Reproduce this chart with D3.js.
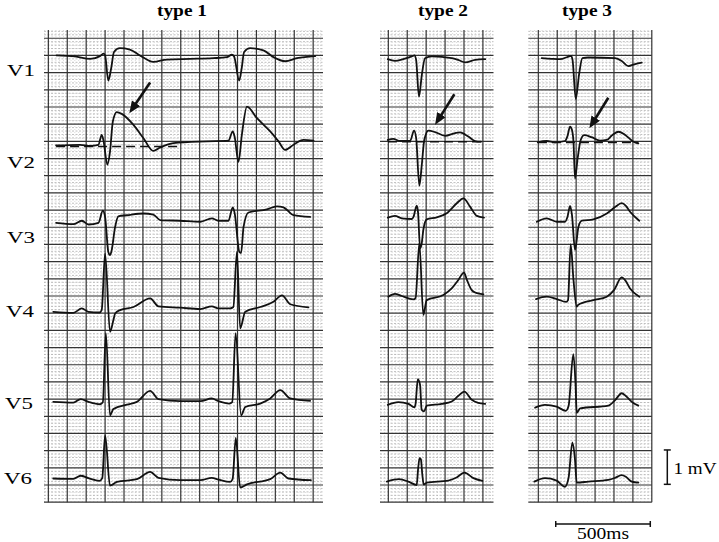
<!DOCTYPE html>
<html><head><meta charset="utf-8">
<script src="https://cdn.jsdelivr.net/npm/d3@7"></script>
<style>html,body{margin:0;padding:0;background:#fff}</style>
</head><body>
<svg id="c" width="719" height="542"></svg>
<script>
// ---------- data (time in ms, amplitude in mV relative to each lead's baseline) ----------
const leads = ["V1","V2","V3","V4","V5","V6"];
const types = ["type 1","type 2","type 3"];

const type1V1 = [[44,0.02],[141,-0.01],[221,-0.08],[273,0],[291,0.07],[300,0.02],[317,-0.71],[332,-0.36],[347,0.12],[378,0.23],[431,0.19],[484,0.02],[555,-0.17],[626,-0.1],[750,-0.08],[871,-0.06],[944,-0.03],[970,0.04],[982,-0.01],[1009,-0.71],[1022,-0.36],[1035,0.12],[1067,0.23],[1137,0.17],[1190,-0.03],[1252,-0.15],[1314,-0.06],[1411,0]];
const type1V2 = [[41,0.01],[168,0.03],[221,0],[265,0.03],[282,0.32],[291,0.17],[312,-0.55],[326,-0.17],[341,0.71],[362,0.98],[388,0.93],[450,0.61],[503,0.22],[555,-0.15],[591,-0.05],[661,0.08],[838,0.13],[952,0.15],[975,0.42],[985,0.26],[1005,-0.47],[1023,0.32],[1050,1.14],[1102,0.81],[1173,0.42],[1217,0.13],[1252,-0.12],[1296,0.03],[1349,0.17],[1402,0.15]];
const type1V3 = [[41,0.01],[132,-0.03],[177,0.07],[212,-0.04],[265,0.01],[288,0.36],[300,0.18],[317,-0.84],[326,-0.93],[334,-0.81],[353,-0.11],[370,0.2],[415,0.23],[503,0.28],[555,0.25],[591,0.09],[697,0.07],[804,0.04],[864,0.14],[899,0.07],[952,0.07],[975,0.46],[985,0.29],[1010,-0.84],[1019,-0.87],[1032,-0.11],[1058,0.31],[1155,0.4],[1208,0.49],[1243,0.46],[1296,0.23],[1384,0.18]];
const type1V4 = [[26,0.01],[132,-0.02],[177,0.11],[212,0.01],[270,-0.01],[282,0.06],[300,1.71],[326,-0.57],[344,-0.23],[353,-0.04],[379,0.06],[450,0.15],[538,0.4],[582,0.17],[697,0.13],[804,0.09],[864,0.17],[899,0.11],[961,0.11],[978,0.15],[997,1.75],[1014,-0.47],[1041,0.01],[1120,0.15],[1190,0.3],[1235,0.49],[1279,0.23],[1375,0.14]];
const type1V5 = [[26,0.01],[132,-0.01],[171,0.09],[212,0.01],[273,-0.06],[288,0],[304,2.01],[326,-0.38],[344,-0.2],[415,-0.07],[468,0.01],[538,0.33],[582,0.09],[697,0.03],[804,0.03],[864,0.11],[899,0.03],[957,-0.04],[972,0],[990,2.01],[1019,-0.38],[1041,-0.14],[1120,-0.04],[1173,0.11],[1226,0.35],[1279,0.11],[1384,0.04]];
const type1V6 = [[26,0.02],[132,0.01],[171,0.1],[212,0.03],[270,-0.05],[285,0.03],[300,1.28],[326,-0.19],[362,-0.08],[468,0],[538,0.21],[582,0.04],[697,-0.03],[804,-0.03],[864,0.04],[899,-0.01],[961,-0.08],[974,0],[991,1.2],[1014,-0.24],[1050,-0.15],[1173,0],[1226,0.19],[1270,0.02],[1388,-0.03]];

const type2V1 = [[-3,-0.01],[35,-0.06],[79,-0.01],[124,0.07],[138,0.1],[147,-0.03],[162,-1.1],[177,-0.47],[194,0.02],[230,0.07],[335,0.02],[369,-0.03],[406,-0.1],[459,-0.03],[512,-0.01]];
const type2V2 = [[-3,0.04],[26,0.07],[62,0.01],[115,0.01],[136,0.31],[147,0.1],[164,-1.29],[177,-0.68],[190,0.04],[212,0.31],[247,0.27],[300,0.16],[353,0.24],[379,0.26],[423,0.14],[459,0.01],[490,-0.01]];
const type2V3 = [[-3,0.01],[35,0.06],[71,-0.01],[124,-0.03],[133,0.03],[150,0.36],[157,0.17],[168,-0.88],[176,-0.76],[185,-0.35],[203,-0.04],[256,0.02],[309,0.14],[362,0.43],[397,0.57],[432,0.33],[468,0.06],[506,0.01]];
const type2V4 = [[0,0.01],[35,0.09],[71,0.03],[132,-0.07],[144,-0.03],[164,1.57],[185,-0.52],[203,-0.09],[291,0.06],[335,0.25],[369,0.49],[400,0.71],[416,0.49],[441,0.2],[464,0.12],[503,0.08]];
const type2V5 = [[-3,-0.03],[53,0.05],[106,0],[138,-0.1],[144,0],[156,0.72],[168,0.55],[176,-0.17],[189,-0.22],[203,-0.05],[282,0],[335,0.07],[369,0.23],[402,0.36],[441,0.12],[475,0.03],[512,0]];
const type2V6 = [[-8,0.01],[57,0.08],[106,0.01],[150,-0.09],[157,0.35],[165,0.69],[172,0.66],[180,0.2],[187,-0.08],[203,-0.02],[317,0.04],[358,0.12],[402,0.27],[450,0.11],[497,0.03]];

const type3V1 = [[18,0.01],[71,-0.01],[115,-0.02],[156,0.05],[173,0.08],[181,-0.04],[198,-1.18],[215,-0.48],[233,0.01],[265,0.03],[406,0.01],[441,-0.07],[476,-0.22],[512,-0.16],[547,-0.12]];
const type3V2 = [[-3,-0.01],[44,0.03],[88,-0.01],[141,0.03],[154,0.17],[168,0.45],[178,0.35],[186,0],[194,-1.06],[208,-0.47],[224,0.06],[243,0.2],[282,0.14],[326,0.04],[362,0.06],[390,0.2],[423,0.3],[453,0.23],[476,0.13],[503,0.01],[529,-0.04]];
const type3V3 = [[-8,-0.02],[44,0.08],[97,-0.02],[141,-0.02],[154,0.12],[168,0.44],[178,0.17],[194,-0.84],[212,-0.17],[230,0.01],[291,0.05],[362,0.22],[406,0.41],[441,0.52],[463,0.44],[485,0.27],[534,0.01]];
const type3V4 = [[-12,0],[44,0.07],[97,0],[147,-0.08],[157,-0.03],[171,1.6],[186,0.55],[203,-0.22],[210,-0.17],[291,-0.03],[362,0.07],[400,0.26],[441,0.63],[463,0.52],[485,0.31],[534,0.07]];
const type3V5 = [[-17,-0.02],[35,0.06],[97,0.01],[145,-0.11],[160,0.03],[185,1.54],[197,0.64],[203,-0.17],[221,-0.04],[370,0.04],[406,0.2],[441,0.4],[463,0.32],[494,0.15],[529,0.04]];
const type3V6 = [[-21,-0.02],[35,0.08],[97,0.01],[141,-0.17],[160,0.09],[180,1.11],[194,0.61],[203,-0.05],[265,-0.02],[370,0.03],[406,0.09],[441,0.17],[463,0.12],[494,-0.02],[529,-0.05]];

// V2 isoelectric reference (t start, t end, mV) and arrows (tail t, tail mV, tip t, tip mV), relative to V2
const dashBaselines = [[41,706,-0.02],[-2,497,-0.01],[-2,529,-0.01]];
const arrows = [[538,1.84,428,0.95],[349,1.37,247,0.48],[370,1.29,270,0.40]];
const scaleBarMs = 500, scaleBarMv = 1;

// ---------- layout ----------
const W = 719, H = 542;
const svg = d3.select("#c");
svg.append("rect").attr("width", W).attr("height", H).attr("fill", "#fff");

const Y = d3.scaleLinear().domain([0.24, -13.5]).range([30, 502.2]);
const panels = [
  {title: types[0], range: [44, 323], domain: [-23, 1452], titleX: 182,
   offs: [-0.52, -3.13, -5.38, -7.97, -10.59, -12.83],
   traces: [type1V1, type1V2, type1V3, type1V4, type1V5, type1V6]},
  {title: types[1], range: [380, 493.5], domain: [-44, 556], titleX: 443,
   offs: [-0.60, -3.00, -5.23, -7.53, -10.64, -12.91],
   traces: [type2V1, type2V2, type2V3, type2V4, type2V5, type2V6]},
  {title: types[2], range: [528.3, 651.8], domain: [-53, 600], titleX: 587,
   offs: [-0.59, -3.02, -5.32, -7.59, -10.73, -12.88],
   traces: [type3V1, type3V2, type3V3, type3V4, type3V5, type3V6]}
];

const defs = svg.append("defs");
defs.append("marker").attr("id", "ah").attr("markerUnits", "userSpaceOnUse")
  .attr("viewBox", "0 0 12 10").attr("refX", 12).attr("refY", 5)
  .attr("markerWidth", 12).attr("markerHeight", 10).attr("orient", "auto")
  .append("path").attr("d", "M0,0 L12,5 L0,10 Z").attr("fill", "#111");

const serif = "'Liberation Serif','Times New Roman',Times,serif";

panels.forEach((p, pi) => {
  const X = d3.scaleLinear().domain(p.domain).range(p.range);
  const g = svg.append("g");
  const ti = d3.range(Math.ceil(p.domain[0] / 20), Math.floor(p.domain[1] / 20) + 1);
  const vi = d3.range(-135, 3);
  const yTop = Y(0.24), yBot = Y(-13.5);
  // minor grid
  g.selectAll("line.mv").data(ti.filter(i => i % 5 !== 0)).join("line")
    .attr("x1", i => X(i * 20)).attr("x2", i => X(i * 20)).attr("y1", yTop).attr("y2", yBot)
    .attr("stroke", "#c4c4c4").attr("stroke-width", 0.6).attr("stroke-dasharray", "1,2");
  g.selectAll("line.mh").data(vi.filter(j => j % 5 !== 0)).join("line")
    .attr("x1", p.range[0]).attr("x2", p.range[1]).attr("y1", j => Y(j / 10)).attr("y2", j => Y(j / 10))
    .attr("stroke", "#9c9c9c").attr("stroke-width", 0.65).attr("stroke-dasharray", "2,1.5");
  // major grid
  g.selectAll("line.Mv").data(ti.filter(i => i % 5 === 0)).join("line")
    .attr("x1", i => X(i * 20)).attr("x2", i => X(i * 20)).attr("y1", yTop).attr("y2", yBot)
    .attr("stroke", "#333").attr("stroke-width", 1.2);
  g.selectAll("line.Mh").data(vi.filter(j => j % 5 === 0)).join("line")
    .attr("x1", p.range[0]).attr("x2", p.range[1]).attr("y1", j => Y(j / 10)).attr("y2", j => Y(j / 10))
    .attr("stroke", "#333").attr("stroke-width", 1.2);

  // V2 isoelectric dashed line
  const db = dashBaselines[pi];
  g.append("line").attr("x1", X(db[0])).attr("x2", X(db[1]))
    .attr("y1", Y(p.offs[1] + db[2])).attr("y2", Y(p.offs[1] + db[2]))
    .attr("stroke", "#111").attr("stroke-width", 1.5).attr("stroke-dasharray", "9,5");

  // traces
  p.traces.forEach((tr, li) => {
    const line = d3.line().x(d => X(d[0])).y(d => Y(p.offs[li] + d[1])).curve(d3.curveMonotoneX);
    g.append("path").attr("d", line(tr)).attr("fill", "none")
      .attr("stroke", "#111").attr("stroke-width", 1.8)
      .attr("stroke-linejoin", "round").attr("stroke-linecap", "round");
  });

  // arrow
  const a = arrows[pi];
  const x1 = X(a[0]), y1 = Y(p.offs[1] + a[1]), x2 = X(a[2]), y2 = Y(p.offs[1] + a[3]);
  const len = Math.hypot(x2 - x1, y2 - y1), ux = (x2 - x1) / len, uy = (y2 - y1) / len;
  g.append("line").attr("x1", x1).attr("y1", y1).attr("x2", x2 - ux * 8).attr("y2", y2 - uy * 8)
    .attr("stroke", "#111").attr("stroke-width", 2.6);
  g.append("line").attr("x1", x2 - ux * 9).attr("y1", y2 - uy * 9).attr("x2", x2).attr("y2", y2)
    .attr("stroke", "none").attr("marker-end", "url(#ah)");

  // title
  svg.append("text").attr("x", p.titleX).attr("y", 16).attr("text-anchor", "middle")
    .attr("font-family", serif).attr("font-weight", "bold").attr("font-size", 17)
    .attr("textLength", 50).attr("lengthAdjust", "spacingAndGlyphs").text(p.title);

  // scale bars drawn with the type-3 scales
  if (pi === 2) {
    const bx = 667.3, bTop = Y(-11.98), bBot = Y(-11.98 - scaleBarMv);
    const sb = svg.append("g").attr("stroke", "#111").attr("stroke-width", 1.5);
    sb.append("line").attr("x1", bx).attr("x2", bx).attr("y1", bTop).attr("y2", bBot);
    sb.append("line").attr("x1", bx - 3.5).attr("x2", bx + 3.5).attr("y1", bTop).attr("y2", bTop);
    sb.append("line").attr("x1", bx - 3.5).attr("x2", bx + 3.5).attr("y1", bBot).attr("y2", bBot);
    const hx0 = X(92), hx1 = X(92 + scaleBarMs), hy = 524;
    sb.append("line").attr("x1", hx0).attr("x2", hx1).attr("y1", hy).attr("y2", hy);
    sb.append("line").attr("x1", hx0).attr("x2", hx0).attr("y1", hy - 3).attr("y2", hy + 3);
    sb.append("line").attr("x1", hx1).attr("x2", hx1).attr("y1", hy - 3).attr("y2", hy + 3);
    svg.append("text").attr("x", 673.5).attr("y", 474).attr("font-family", serif).attr("font-size", 17)
      .attr("textLength", 43).attr("lengthAdjust", "spacingAndGlyphs").text(scaleBarMv + " mV");
    svg.append("text").attr("x", (hx0 + hx1) / 2).attr("y", 539).attr("text-anchor", "middle")
      .attr("font-family", serif).attr("font-size", 17)
      .attr("textLength", 52).attr("lengthAdjust", "spacingAndGlyphs").text(scaleBarMs + "ms");
  }
});

// lead labels
const labelY = [76, 167.5, 243, 316.5, 409, 484];
const labelX = [7, 7, 7, 6, 5, 4];
leads.forEach((l, i) => {
  svg.append("text").attr("x", labelX[i]).attr("y", labelY[i]).attr("font-family", serif)
    .attr("font-size", 17).attr("textLength", 28).attr("lengthAdjust", "spacingAndGlyphs").text(l);
});
</script>
</body></html>
